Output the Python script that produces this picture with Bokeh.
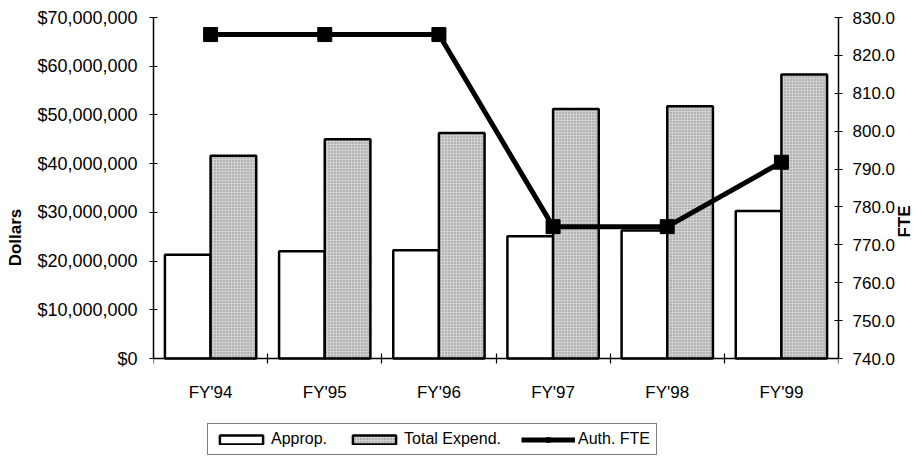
import math
from bokeh.plotting import figure
from bokeh.models import (Range1d, LinearAxis, FixedTicker, NumeralTickFormatter,
                          Legend, LegendItem, ColumnDataSource)
from bokeh.core.properties import value
from bokeh.embed import file_html
from bokeh.resources import INLINE

categories = ["FY'94", "FY'95", "FY'96", "FY'97", "FY'98", "FY'99"]
approp = [21300000, 22000000, 22200000, 25100000, 26300000, 30300000]
total_expend = [41600000, 45000000, 46300000, 51200000, 51800000, 58300000]
auth_fte = [825.5, 825.5, 825.5, 774.8, 774.8, 791.8]

DOLLAR_MAX = 70000000
FTE_MIN, FTE_MAX = 740, 830

# layout (pixels): value axes span AXIS_PX, extra room below for labels + legend
AXIS_PX = 341
EXTRA_PX = 99
y_start = -EXTRA_PX / AXIS_PX * DOLLAR_MAX
fte_start = FTE_MIN - EXTRA_PX / AXIS_PX * (FTE_MAX - FTE_MIN)

idx = list(range(len(categories)))
src = ColumnDataSource(dict(
    x=idx,
    xa=[i - 0.2 for i in idx],
    xt=[i + 0.2 for i in idx],
    approp=approp,
    total=total_expend,
    fte=auth_fte,
    zero=[0] * len(idx),
    cat=categories,
))

FONT = "Liberation Sans"

p = figure(output_backend="svg", toolbar_location=None,
           x_range=Range1d(-0.5, len(categories) - 0.5),
           y_range=Range1d(y_start, DOLLAR_MAX),
           frame_width=685, frame_height=AXIS_PX + EXTRA_PX,
           min_border_left=153, min_border_right=78, min_border_top=17, min_border_bottom=0,
           x_axis_type=None, y_axis_type=None)
p.grid.visible = False
p.outline_line_color = None
p.background_fill_color = "white"
p.border_fill_color = "white"

p.extra_y_ranges = {"fte": Range1d(fte_start, FTE_MAX)}

# bars
r_a = p.vbar(x="xa", top="approp", bottom="zero", width=0.4, source=src, fill_color="white",
             line_color="black", line_width=2.5)
r_t = p.vbar(x="xt", top="total", bottom="zero", width=0.4, source=src, fill_color="#d0d0d0",
             line_color="black", line_width=2.5,
             hatch_pattern="dot", hatch_color="#5a5a5a", hatch_scale=3,
             hatch_weight=1, hatch_alpha=0.6)

# FTE line
r_l = p.line(x="x", y="fte", source=src, y_range_name="fte", line_color="black",
             line_width=5)
r_s = p.scatter(x="x", y="fte", source=src, y_range_name="fte", marker="square",
                size=14, fill_color="black", line_color="black")

# category labels below the zero line
p.text(x="x", y="zero", text="cat", source=src, y_offset=34,
       text_align="center", text_baseline="middle",
       text_font=value(FONT), text_font_size="17px", text_color="black")


def style_axis(ax):
    ax.axis_line_color = "black"
    ax.axis_line_width = 1.5
    ax.major_tick_line_color = "black"
    ax.minor_tick_line_color = "black"
    ax.major_tick_line_width = 1.2
    ax.minor_tick_line_width = 1.2
    ax.major_label_text_color = "black"
    ax.axis_label_text_color = "black"
    ax.major_label_text_font = FONT
    ax.axis_label_text_font = FONT
    ax.axis_label_text_font_style = "bold"


# left axis
ya = LinearAxis(ticker=FixedTicker(ticks=list(range(0, DOLLAR_MAX + 1, 10000000))),
                formatter=NumeralTickFormatter(format="$0,0"),
                bounds=(0, DOLLAR_MAX))
style_axis(ya)
ya.axis_label = "Dollars"
ya.axis_label_text_font_size = "17px"
ya.axis_label_standoff = 9
ya.major_label_text_font_size = "18px"
ya.major_label_standoff = 12
ya.major_tick_in = 4
ya.major_tick_out = 4
ya.minor_tick_in = 0
ya.minor_tick_out = 0
p.add_layout(ya, "left")

# right axis
yr = LinearAxis(y_range_name="fte",
                ticker=FixedTicker(ticks=list(range(FTE_MIN, FTE_MAX + 1, 10))),
                formatter=NumeralTickFormatter(format="0.0"),
                bounds=(FTE_MIN, FTE_MAX))
style_axis(yr)
yr.axis_label = "FTE"
yr.axis_label_text_font_size = "17px"
yr.axis_label_standoff = 6
yr.axis_label_orientation = math.pi / 2
yr.major_label_text_font_size = "17px"
yr.major_label_standoff = 10
yr.major_tick_in = 4
yr.major_tick_out = 4
yr.minor_tick_in = 0
yr.minor_tick_out = 0
p.add_layout(yr, "right")

# bottom axis line at zero with category-boundary ticks
xa = LinearAxis(fixed_location=0,
                ticker=FixedTicker(ticks=[],
                                   minor_ticks=[i - 0.5 for i in range(len(categories) + 1)]))
style_axis(xa)
xa.major_tick_in = 0
xa.major_tick_out = 0
xa.major_label_standoff = 0
xa.minor_tick_in = 5
xa.minor_tick_out = 5
p.add_layout(xa, "below")

legend = Legend(items=[
    LegendItem(label="Approp.", renderers=[r_a]),
    LegendItem(label="Total Expend.", renderers=[r_t]),
    LegendItem(label="Auth. FTE", renderers=[r_l, r_s]),
], orientation="horizontal", location=(54, 2))
legend.label_text_font = FONT
legend.label_text_font_size = "16px"
legend.label_text_color = "black"
legend.glyph_width = 54
legend.glyph_height = 11
legend.label_height = 15
legend.label_standoff = 3
legend.spacing = 20
legend.padding = 6
legend.margin = 0
legend.border_line_color = "black"
legend.border_line_width = 1.2
legend.background_fill_alpha = 1
p.add_layout(legend, "center")

open("out.html", "w").write(file_html(p, INLINE))
